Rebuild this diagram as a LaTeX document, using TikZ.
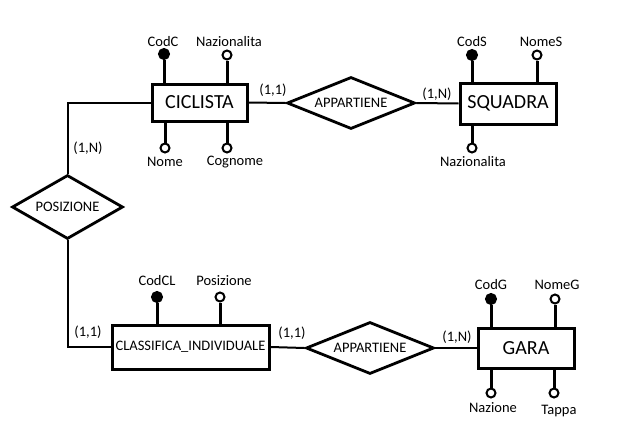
\documentclass[tikz,border=0pt]{standalone}
\usepackage{fontspec}
\setmainfont{Carlito}
\usetikzlibrary{shapes.geometric}
\begin{document}
\begin{tikzpicture}[x=1pt,y=-1pt,
  entity/.style={draw,line width=3pt,inner sep=0pt,font=\fontsize{20}{22}\selectfont},
  relation/.style={draw,diamond,line width=2.8pt,inner sep=0pt,aspect=2.4,font=\fontsize{14.5}{16}\selectfont},
  keyattr/.style={circle,draw,fill=black,line width=2pt,minimum size=10pt,inner sep=0pt},
  attr/.style={circle,draw,fill=white,line width=2pt,minimum size=9pt,inner sep=0pt},
  lbl/.style={inner sep=0pt,font=\fontsize{14.5}{16}\selectfont},
  attrline/.style={line width=3pt},
  conn/.style={line width=2pt}]
\useasboundingbox (0,0) rectangle (629,442);
\fill[white] (0,0) rectangle (629,442);

% entities
\node[entity,minimum width=95pt,minimum height=37pt] (cic) at (199.5,102.5) {CICLISTA};
\node[entity,minimum width=96pt,minimum height=41pt] (squ) at (508,103.5) {SQUADRA};
\node[entity,minimum width=157pt,minimum height=44pt,font=\fontsize{14.5}{16}\selectfont] (cla) at (190.5,347) {CLASSIFICA\_INDIVIDUALE};
\node[entity,minimum width=96pt,minimum height=40pt] (gar) at (526,348) {GARA};

% relations
\node[relation,minimum width=128pt,minimum height=52pt] (app1) at (351,103) {APPARTIENE};
\node[relation,minimum width=111pt,minimum height=64pt] (pos) at (67.5,207) {POSIZIONE};
\node[relation,minimum width=128pt,minimum height=52pt] (app2) at (370,348) {APPARTIENE};

% connectors
\draw[conn] (cic.east) -- (app1.west);
\draw[conn] (app1.east) -- (squ.west);
\draw[conn] (cic.west) -| (pos.north);
\draw[conn] (pos.south) |- (cla.west);
\draw[conn] (cla.east) -- (app2.west);
\draw[conn] (app2.east) -- (gar.west);

% cardinalities
\node[lbl] (c1) at (273,90) {(1,1)};
\node[lbl] (c2) at (437,94) {(1,N)};
\node[lbl] (c3) at (88,148) {(1,N)};
\node[lbl] (c4) at (88,332) {(1,1)};
\node[lbl] (c5) at (292,333) {(1,1)};
\node[lbl] (c6) at (457,337) {(1,N)};

% CICLISTA attributes
\node[keyattr] (codc) at (164,54) {};
\node[lbl] (codcl) at (163,42) {CodC};
\draw[attrline] (codc) -- (codc |- cic.north);
\node[attr] (naz1) at (227,55) {};
\node[lbl] (naz1l) at (229,42) {Nazionalita};
\draw[attrline] (naz1) -- (naz1 |- cic.north);
\node[attr] (nome) at (165,148) {};
\node[lbl] (nomel) at (165,162) {Nome};
\draw[attrline] (nome) -- (nome |- cic.south);
\node[attr] (cogn) at (227,148) {};
\node[lbl] (cognl) at (235,162) {Cognome};
\draw[attrline] (cogn) -- (cogn |- cic.south);

% SQUADRA attributes
\node[keyattr] (cods) at (472,55) {};
\node[lbl] (codsl) at (472,42) {CodS};
\draw[attrline] (cods) -- (cods |- squ.north);
\node[attr] (noms) at (537,55) {};
\node[lbl] (nomsl) at (541,42) {NomeS};
\draw[attrline] (noms) -- (noms |- squ.north);
\node[attr] (naz2) at (472,148) {};
\node[lbl] (naz2l) at (473,162) {Nazionalita};
\draw[attrline] (naz2) -- (naz2 |- squ.south);

% CLASSIFICA attributes
\node[keyattr] (codcl) at (157,297) {};
\node[lbl] (codcll) at (157,281) {CodCL};
\draw[attrline] (codcl) -- (codcl |- cla.north);
\node[attr] (posa) at (220,297) {};
\node[lbl] (posal) at (224,281) {Posizione};
\draw[attrline] (posa) -- (posa |- cla.north);

% GARA attributes
\node[keyattr] (codg) at (491,299) {};
\node[lbl] (codgl) at (491,285) {CodG};
\draw[attrline] (codg) -- (codg |- gar.north);
\node[attr] (nomg) at (555,299) {};
\node[lbl] (nomgl) at (557,285) {NomeG};
\draw[attrline] (nomg) -- (nomg |- gar.north);
\node[attr] (nazg) at (491,393) {};
\node[lbl] (nazgl) at (493,408) {Nazione};
\draw[attrline] (nazg) -- (nazg |- gar.south);
\node[attr] (tap) at (554,393) {};
\node[lbl] (tapl) at (559,411) {Tappa};
\draw[attrline] (tap) -- (tap |- gar.south);
\end{tikzpicture}
\end{document}
